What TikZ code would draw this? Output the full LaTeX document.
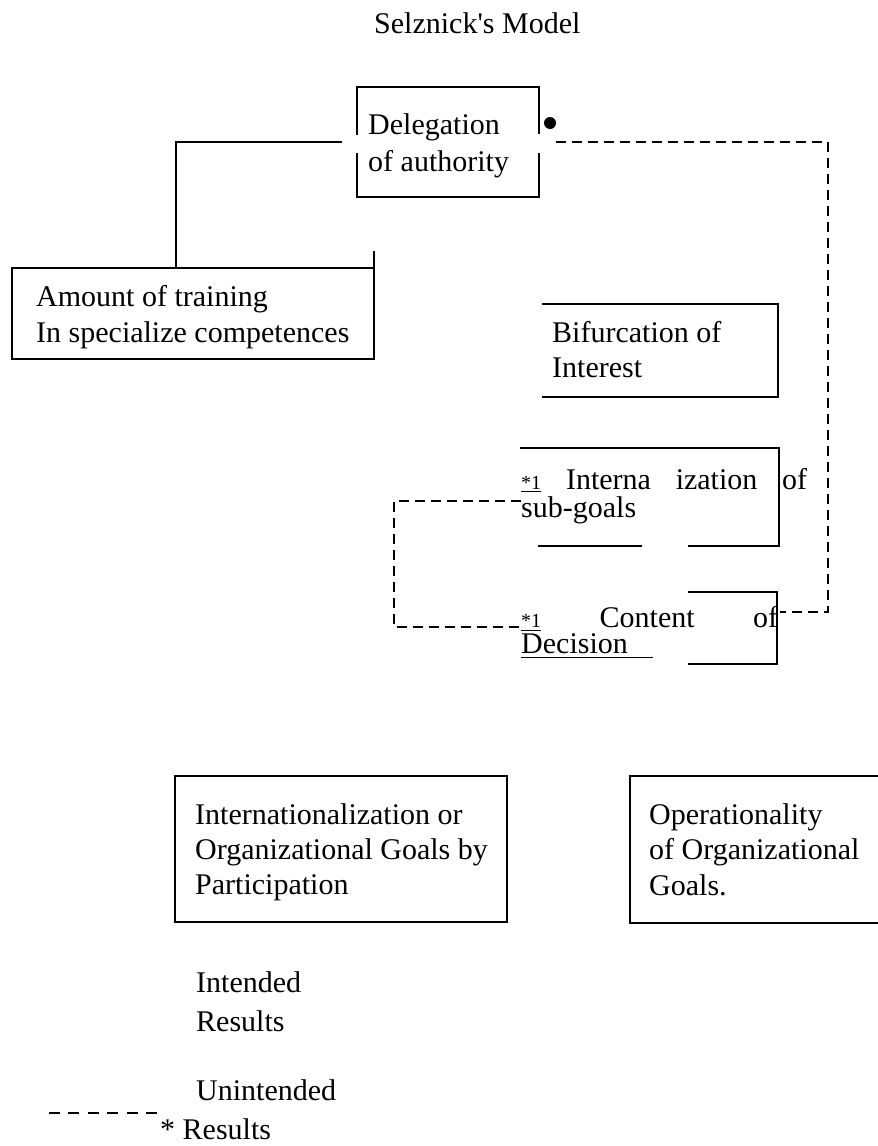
\documentclass[tikz,border=0pt]{standalone}
\usepackage{fontspec}
\setmainfont{Liberation Serif}[Ligatures=TeXOff]
\newcommand{\blk}[2]{\vtop{\baselineskip=#1\lineskiplimit=-100pt\lineskip=0pt #2}}
\newcommand{\ulx}[2]{\vtop{\hbox{#2}\kern#1\hrule height 1.6pt}}
\newcommand{\smallstar}{\fontsize{20}{24}\selectfont *1}
\begin{document}
\begin{tikzpicture}[x=1pt,y=-1pt,
  txt/.style={anchor=base west,inner sep=0pt,font=\fontsize{30}{36}\selectfont},
  boxline/.style={line width=2.3pt,line cap=rect},
  conn/.style={line width=2.1pt},
  dconn/.style={line width=2.1pt,dash pattern=on 10pt off 6pt},
  legdash/.style={line width=2.5pt,dash pattern=on 11pt off 8.4pt},
  dotmark/.style={circle,fill=black,inner sep=0pt,minimum size=12pt}]
\useasboundingbox (0,0) rectangle (878,1146);

% title
\node[txt] (title) at (374,33) {Selznick's Model};

% Delegation of authority
\node[txt] (deleg) at (368,134) {\blk{37pt}{\hbox{Delegation}\hbox{of authority}}};
\draw[boxline] (357,134) -- (357,87) -- (539,87) -- (539,133);
\draw[boxline] (357,154) -- (357,197) -- (539,197) -- (539,154);
\node[dotmark] (dot) at (550,123) {};

% Amount of training
\node[txt] (amount) at (36,306) {\blk{36pt}{\hbox{Amount of training}\hbox{In specialize competences}}};
\draw[boxline] (374,252) -- (374,359) -- (12,359) -- (12,268) -- (374,268);

% Bifurcation of Interest
\node[txt] (bifur) at (552,342) {\blk{35pt}{\hbox{Bifurcation of}\hbox{Interest}}};
\draw[boxline] (543,304) -- (778,304) -- (778,397) -- (543,397);

% Internalization of sub-goals
\node[txt] (interna) at (521,489) {\blk{28pt}{\hbox to 286pt{\ulx{1.5pt}{\smallstar}\hfill Interna\hfill ization\hfill of}\hbox{sub-goals}}};
\draw[boxline] (521,448) -- (779,448) -- (779,546) -- (689,546);
\draw[boxline] (539,546) -- (641,546);

% Content of Decision
\node[txt] (content) at (521,627) {\blk{26pt}{\hbox to 257pt{\ulx{2.5pt}{\smallstar}\hfill Content\hfill of}\hbox{\ulx{3.5pt}{Decision\hspace{25pt}}}}};
\draw[boxline] (689,592) -- (777,592) -- (777,664) -- (689,664);

% Internationalization of organizational goals
\node[txt] (goals) at (195,824) {\blk{35pt}{\hbox{Internationalization or}\hbox{Organizational Goals by}\hbox{Participation}}};
\draw[boxline] (175,776) rectangle (507,922);

% Operationality
\node[txt] (oper) at (649,824) {\blk{35.5pt}{\hbox{Operationality}\hbox{of Organizational}\hbox{Goals.}}};
\draw[boxline] (880,776) -- (630,776) -- (630,923) -- (880,923);

% legend
\node[txt] (intended) at (196,992) {\blk{39pt}{\hbox{Intended}\hbox{Results}}};
\node[txt] (unintended) at (196,1100) {Unintended};
\node[txt] (unres) at (160,1139) {* Results};
\coordinate (legA) at (49,1113);
\coordinate (legB) at (157,1113);
\draw[legdash] (legA) -- (legB);

% connectors
\coordinate (delegIn) at (342,142);
\coordinate (amountIn) at (176,268);
\draw[conn] (delegIn) -| (amountIn);

\coordinate (delegOut) at (556,142);
\coordinate (contentOut) at (780,612);
\draw[dconn] (delegOut) -- (828,142) -- (828,612) -- (contentOut);

\coordinate (internaIn) at (521,501);
\coordinate (contentIn) at (521,627);
\draw[dconn] (internaIn) -- (394,501) -- (394,627) -- (contentIn);
\end{tikzpicture}
\end{document}
